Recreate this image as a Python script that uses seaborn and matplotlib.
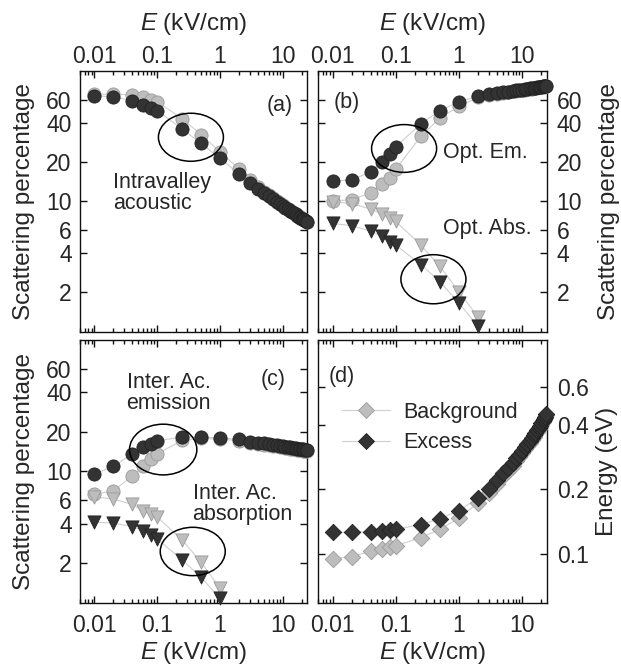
import matplotlib
matplotlib.use("Agg")
import matplotlib.pyplot as plt
import seaborn as sns
import pandas as pd
from matplotlib.patches import Ellipse
from matplotlib.lines import Line2D
from matplotlib.ticker import FixedLocator, FixedFormatter, LogLocator, NullFormatter

# ---------------- data ----------------
E = [0.01, 0.02, 0.04, 0.06, 0.08, 0.1, 0.25, 0.5, 1, 2,
     3, 4, 5, 6, 7, 8, 9, 10, 11, 12, 13, 14, 15, 16, 17, 18, 19, 20, 21, 22, 23, 24]

# (a) intravalley acoustic
a_bg = [66, 66, 65.5, 62.4, 60, 58, 42.8, 32.4, 23.9, 17.7,
        14.6, 12.8, 11.8, 11.1, 10.5, 10.0, 9.65, 9.3, 9.02, 8.76, 8.53, 8.32, 8.12, 7.95,
        7.8, 7.65, 7.51, 7.39, 7.28, 7.17, 7.07, 6.97]
a_ex = [64.3, 63, 59, 55, 52, 49.5, 35.7, 27.7, 21.3, 16.2,
        13.8, 12.4, 11.5, 10.9, 10.35, 9.9, 9.55, 9.2, 8.94, 8.69, 8.47, 8.27, 8.08, 7.91,
        7.76, 7.62, 7.48, 7.36, 7.25, 7.14, 7.04, 6.94]

# (b) optical emission / absorption
b_em_bg = [10, 10.3, 11.6, 13.6, 15, 17.6, 31.5, 43.5, 53.3, 62.4,
           65, 66.6, 67.7, 68.6, 69.4, 70.1, 70.7, 71.2, 71.7, 72.2, 72.6, 73.0, 73.4, 73.8,
           74.1, 74.4, 74.7, 75.0, 75.3, 75.6, 75.9, 76.2]
b_em_ex = [14.2, 14.6, 16.7, 19.9, 23, 26.1, 39.3, 49.5, 58, 63.6,
           66, 67.3, 68.3, 69.2, 70, 70.6, 71.2, 71.7, 72.2, 72.7, 73.1, 73.5, 73.9, 74.3,
           74.6, 74.9, 75.2, 75.5, 75.8, 76.0, 76.3, 76.6]
E_b_abs = [0.01, 0.02, 0.04, 0.06, 0.08, 0.1, 0.25, 0.5, 1, 2]
b_abs_bg = [9.9, 9.6, 8.7, 8.0, 7.4, 7.0, 4.6, 3.16, 2.02, 1.29]
b_abs_ex = [6.75, 6.5, 5.9, 5.4, 4.9, 4.6, 3.27, 2.41, 1.65, 1.1]

# (c) intervalley acoustic emission / absorption
c_em_bg = [6.7, 7.1, 9.2, 10.9, 12.4, 13.6, 17.2, 17.8, 17.6, 17.1,
           16.5, 16.2, 16.0, 15.8, 15.6, 15.5, 15.3, 15.2, 15.1, 15.0, 14.9, 14.8, 14.75, 14.7,
           14.6, 14.55, 14.5, 14.45, 14.4, 14.35, 14.3, 14.3]
c_em_ex = [9.55, 10.9, 13.6, 15.4, 16.2, 17.1, 18.2, 18.2, 18.0, 17.5,
           16.8, 16.5, 16.3, 16.1, 15.9, 15.8, 15.6, 15.5, 15.4, 15.3, 15.2, 15.1, 15.05, 15.0,
           14.9, 14.85, 14.8, 14.75, 14.7, 14.65, 14.6, 14.6]
E_c_abs = [0.01, 0.02, 0.04, 0.06, 0.08, 0.1, 0.25, 0.5, 1]
c_abs_bg = [6.4, 6.15, 5.6, 5.0, 4.73, 4.49, 3.0, 2.03, 1.29]
c_abs_ex = [4.1, 4.04, 3.8, 3.52, 3.25, 3.05, 2.12, 1.56, 1.08]

# (d) energy
d_bg = [0.0944, 0.097, 0.1026, 0.105, 0.107, 0.109, 0.119, 0.13, 0.147, 0.173,
        0.193, 0.213, 0.230, 0.244, 0.258, 0.271, 0.284, 0.296, 0.308, 0.319, 0.330, 0.341,
        0.352, 0.362, 0.372, 0.382, 0.392, 0.402, 0.412, 0.422, 0.432, 0.447]
d_ex = [0.126, 0.126, 0.127, 0.128, 0.129, 0.13, 0.137, 0.146, 0.159, 0.183,
        0.201, 0.222, 0.238, 0.252, 0.266, 0.279, 0.291, 0.303, 0.315, 0.326, 0.337, 0.348,
        0.358, 0.368, 0.378, 0.388, 0.398, 0.408, 0.418, 0.428, 0.438, 0.452]

x_ticks = [0.01, 0.1, 1, 10]
x_ticklabels = ["0.01", "0.1", "1", "10"]
y_ticks = [2, 4, 6, 10, 20, 40, 60]
y_ticklabels = ["2", "4", "6", "10", "20", "40", "60"]
e_ticks = [0.1, 0.2, 0.4, 0.6]
e_ticklabels = ["0.1", "0.2", "0.4", "0.6"]
legend_labels = ["Background", "Excess"]

# ---------------- style ----------------
sns.set_style("ticks")
plt.rcParams["font.family"] = ["Liberation Sans", "DejaVu Sans"]
plt.rcParams["mathtext.fontset"] = "custom"
plt.rcParams["mathtext.rm"] = "Liberation Sans"
plt.rcParams["mathtext.it"] = "Liberation Sans:italic"

LIGHT = "#bdbdbd"
LIGHT_E = "#9a9a9a"
DARK = "#333333"
DARK_E = "#222222"
LINE = "#cfcfcf"
TICK_FS = 16.5
LAB_FS = 17.5
ANN_FS = 15.5

fig = plt.figure(figsize=(6.21, 6.71), dpi=100)
W, H = 621, 671
def rect(x0, y0, x1, y1):
    return [x0 / W, (H - y1) / H, (x1 - x0) / W, (y1 - y0) / H]

ax_a = fig.add_axes(rect(80, 70.7, 307.3, 331.7))
ax_b = fig.add_axes(rect(318, 70.7, 547, 331.7))
ax_c = fig.add_axes(rect(80, 340, 307.3, 602.7))
ax_d = fig.add_axes(rect(318, 340, 547, 602.7))


def series(ax, x, y, marker, face, edge, ms):
    df = pd.DataFrame({"E": x, "v": y})
    sns.lineplot(data=df, x="E", y="v", ax=ax, color=LINE, lw=0.8,
                 estimator=None, sort=False, legend=False, zorder=2)
    sns.scatterplot(data=df, x="E", y="v", ax=ax, marker=marker, s=ms, color=face,
                    edgecolor=edge, linewidth=0.6, legend=False, zorder=3, clip_on=False)


CIRC = 90
TRI = 90
DIAM = 70

series(ax_a, E, a_bg, "o", LIGHT, LIGHT_E, CIRC)
series(ax_a, E, a_ex, "o", DARK, DARK_E, CIRC)

series(ax_b, E, b_em_bg, "o", LIGHT, LIGHT_E, CIRC)
series(ax_b, E_b_abs, b_abs_bg, "v", LIGHT, LIGHT_E, TRI)
series(ax_b, E, b_em_ex, "o", DARK, DARK_E, CIRC)
series(ax_b, E_b_abs, b_abs_ex, "v", DARK, DARK_E, TRI)

series(ax_c, E, c_em_bg, "o", LIGHT, LIGHT_E, CIRC)
series(ax_c, E_c_abs, c_abs_bg, "v", LIGHT, LIGHT_E, TRI)
series(ax_c, E, c_em_ex, "o", DARK, DARK_E, CIRC)
series(ax_c, E_c_abs, c_abs_ex, "v", DARK, DARK_E, TRI)

series(ax_d, E, d_bg, "D", LIGHT, LIGHT_E, DIAM)
series(ax_d, E, d_ex, "D", DARK, DARK_E, DIAM)

xlab = r"$E$ (kV/cm)"
for ax in (ax_a, ax_b, ax_c, ax_d):
    ax.set_xscale("log")
    ax.set_yscale("log")
    ax.set_xlim(0.0059, 24.5)
    ax.xaxis.set_major_locator(FixedLocator(x_ticks))
    ax.xaxis.set_major_formatter(FixedFormatter(x_ticklabels))
    ax.xaxis.set_minor_locator(LogLocator(base=10, subs=range(2, 10), numticks=20))
    ax.xaxis.set_minor_formatter(NullFormatter())
    ax.yaxis.set_minor_locator(FixedLocator([]))
    for s in ax.spines.values():
        s.set_linewidth(1.0)
        s.set_color("#111111")
        s.set_visible(True)
    ax.tick_params(which="both", direction="in", top=True, bottom=True,
                   left=True, right=True, color="#111111", width=1.0,
                   labelsize=TICK_FS)
    ax.tick_params(axis="y", which="both", pad=6)
    ax.tick_params(which="major", length=5)
    ax.tick_params(which="minor", length=3)
    ax.set_xlabel(xlab, fontsize=LAB_FS)

for ax in (ax_a, ax_b, ax_c):
    ax.set_ylim(1, 100)
    ax.yaxis.set_major_locator(FixedLocator(y_ticks))
    ax.yaxis.set_major_formatter(FixedFormatter(y_ticklabels))
    ax.set_ylabel("Scattering percentage", fontsize=LAB_FS)

ax_d.set_ylim(0.059, 1.0)
ax_d.yaxis.set_major_locator(FixedLocator(e_ticks))
ax_d.yaxis.set_major_formatter(FixedFormatter(e_ticklabels))
ax_d.set_ylabel("Energy (eV)", fontsize=LAB_FS)

# top panels: x labels on top
for ax in (ax_a, ax_b):
    ax.tick_params(axis="x", which="both", labeltop=True, labelbottom=False, pad=2)
    ax.xaxis.set_label_position("top")
    ax.xaxis.labelpad = 11
for ax in (ax_c, ax_d):
    ax.tick_params(axis="x", which="both", pad=8)
    ax.xaxis.labelpad = 2.5
# right panels: y labels right
for ax in (ax_b, ax_d):
    ax.tick_params(axis="y", which="both", labelleft=False, labelright=True, pad=7)
    ax.yaxis.set_label_position("right")
ax_b.yaxis.labelpad = 11
ax_d.yaxis.labelpad = 5
for ax in (ax_a, ax_c):
    ax.yaxis.labelpad = 8

# annotations
def ell(ax, cx, cy, w, h):
    ax.add_patch(Ellipse((cx, cy), w, h, transform=ax.transAxes, fill=False,
                         edgecolor="black", lw=1.1, zorder=5))

ax_a.text(0.88, 0.867, "(a)", transform=ax_a.transAxes, fontsize=ANN_FS, ha="center", va="center")
ax_a.text(0.147, 0.53, "Intravalley\nacoustic", transform=ax_a.transAxes, fontsize=ANN_FS,
          ha="left", va="center", linespacing=1.0)
ell(ax_a, 0.488, 0.745, 0.286, 0.184)

ax_b.text(0.125, 0.879, "(b)", transform=ax_b.transAxes, fontsize=ANN_FS, ha="center", va="center")
ax_b.text(0.547, 0.687, "Opt. Em.", transform=ax_b.transAxes, fontsize=ANN_FS, ha="left", va="center")
ax_b.text(0.547, 0.397, "Opt. Abs.", transform=ax_b.transAxes, fontsize=ANN_FS, ha="left", va="center")
ell(ax_b, 0.376, 0.702, 0.284, 0.183)
ell(ax_b, 0.504, 0.201, 0.284, 0.188)

ax_c.text(0.848, 0.848, "(c)", transform=ax_c.transAxes, fontsize=ANN_FS, ha="center", va="center")
ax_c.text(0.205, 0.80, "Inter. Ac.\nemission", transform=ax_c.transAxes, fontsize=ANN_FS,
          ha="left", va="center", linespacing=1.0)
ax_c.text(0.495, 0.376, "Inter. Ac.\nabsorption", transform=ax_c.transAxes, fontsize=ANN_FS,
          ha="left", va="center", linespacing=1.0)
ell(ax_c, 0.366, 0.583, 0.296, 0.193)
ell(ax_c, 0.496, 0.195, 0.286, 0.184)

ax_d.text(0.103, 0.86, "(d)", transform=ax_d.transAxes, fontsize=ANN_FS, ha="center", va="center")
handles = [
    Line2D([], [], color=LINE, lw=0.8, marker="D", markersize=8.5,
           markerfacecolor=LIGHT, markeredgecolor=LIGHT_E, markeredgewidth=0.6),
    Line2D([], [], color=LINE, lw=0.8, marker="D", markersize=8.5,
           markerfacecolor=DARK, markeredgecolor=DARK_E, markeredgewidth=0.6),
]
ax_d.legend(handles=handles, labels=legend_labels, loc="upper left",
            bbox_to_anchor=(0.1035, 0.765), frameon=False, fontsize=ANN_FS,
            handlelength=2.25, handletextpad=0.6, labelspacing=0.45,
            borderpad=0, borderaxespad=0)

fig.savefig("out.png", dpi=100)
